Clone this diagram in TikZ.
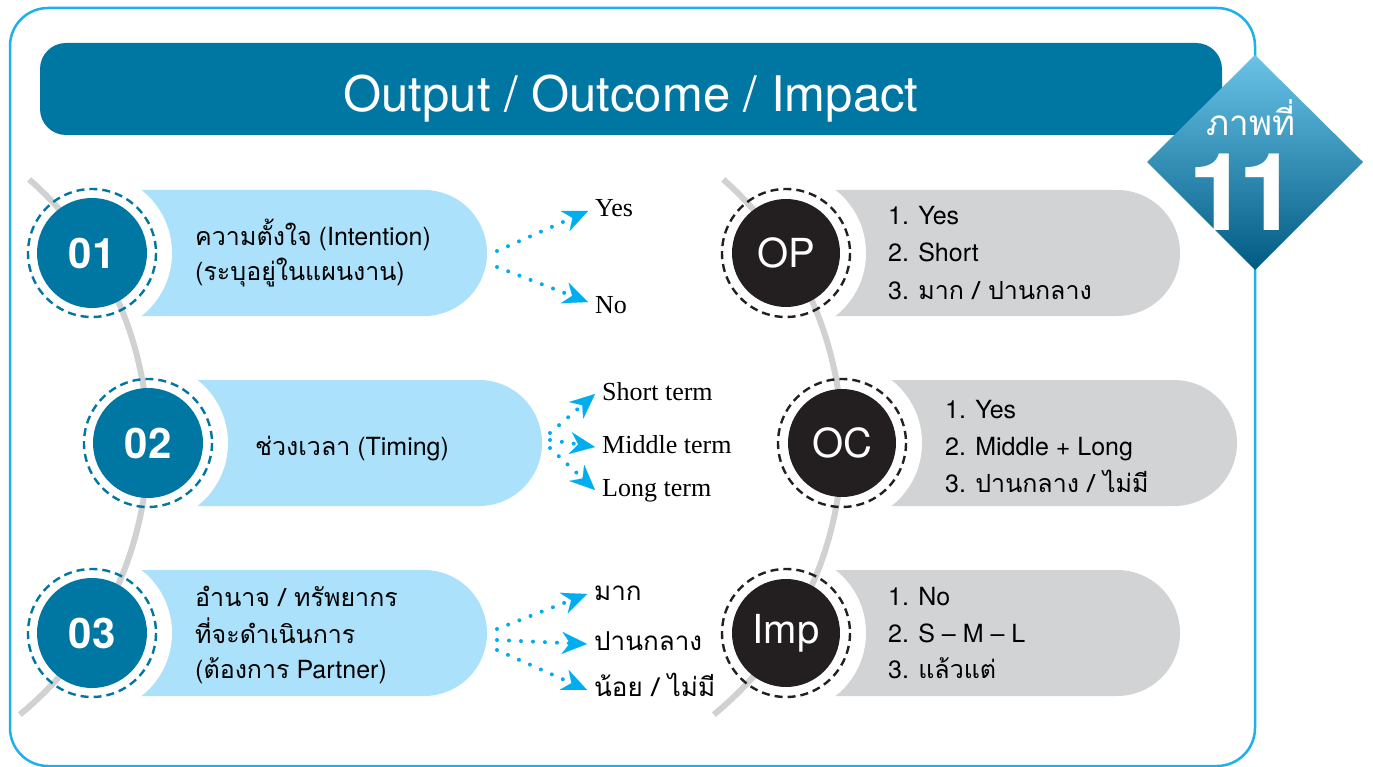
\documentclass[tikz,border=0pt]{standalone}
\usepackage{fontspec}
\setmainfont{TeX Gyre Heros}
\newfontfamily\serifface{Liberation Serif}
\newfontfamily\thaifont[Script=Thai]{Loma}
\usetikzlibrary{arrows.meta}
\newcommand\thaitxt[1]{{\thaifont #1}}

\definecolor{titleblue}{HTML}{0076A3}
\definecolor{pillblue}{HTML}{ABE1FA}
\definecolor{pillgray}{HTML}{D1D3D4}
\definecolor{arcgray}{HTML}{D0D1D3}
\definecolor{inkblack}{HTML}{231F20}
\definecolor{framecyan}{HTML}{1DB0EA}
\definecolor{dotcyan}{HTML}{00AEEF}
\definecolor{badgetop}{HTML}{6AC3E7}
\definecolor{badgemid}{HTML}{0089BB}
\definecolor{badgebot}{HTML}{005A83}

\tikzset{
  bluedot/.style={circle, fill=titleblue, minimum size=110pt, inner sep=0pt, text=white, font=\fontsize{42}{42}\selectfont\bfseries},
  blackdot/.style={circle, fill=inkblack, minimum size=108pt, inner sep=0pt, text=white, font=\fontsize{40}{40}\selectfont},
  bluering/.style={draw=titleblue, line width=2.4pt, dash pattern=on 8pt off 5pt},
  blackring/.style={draw=inkblack, line width=2.4pt, dash pattern=on 8pt off 5pt},
  arcline/.style={draw=arcgray, line width=6pt},
  pilltext/.style={anchor=base west, inner sep=0pt, font=\fontsize{25}{25}\selectfont},
  choice/.style={anchor=base west, inner xsep=7pt, inner ysep=0pt, text height=18pt, text depth=6pt, font=\fontsize{26}{26}\selectfont\serifface},
  choicethai/.style={choice, font=\fontsize{26}{26}\selectfont\thaifont},
  dotarrow/.style={draw=dotcyan, line width=4pt, line cap=round, dash pattern=on 0pt off 12pt, -{Stealth[length=25pt, width=22pt, inset=8pt, line width=0.1pt]}},
  badgetext/.style={anchor=base, text=white, inner sep=0pt},
}

\begin{document}
\begin{tikzpicture}[x=1pt, y=-1pt]
  \useasboundingbox (0,0) rectangle (1373,767);

  % frame and title bar
  \draw[framecyan, line width=2.5pt, rounded corners=38pt] (10,8) rectangle (1255,766);
  \node[fill=titleblue, rounded corners=26pt, minimum width=1182pt, minimum height=92pt, inner sep=0pt] (title) at (631,89) {};
  \node[anchor=base, text=white, font=\fontsize{49}{49}\selectfont] (titletext) at (631,112) {Output / Outcome / Impact};

  % circle centres
  \coordinate (k1) at (92,253);
  \coordinate (k2) at (148,443);
  \coordinate (k3) at (92,633);
  \coordinate (r1) at (786,253);
  \coordinate (r2) at (842,443);
  \coordinate (r3) at (786,633);

  % pills
  \fill[pillblue] (130,190) -- (424,190) arc[start angle=-90, end angle=90, radius=63] -- (130,316) -- cycle;
  \fill[pillblue] (180,380) -- (479,380) arc[start angle=-90, end angle=90, radius=63] -- (180,506) -- cycle;
  \fill[pillblue] (130,570) -- (424,570) arc[start angle=-90, end angle=90, radius=63] -- (130,696) -- cycle;
  \fill[pillgray] (824,190) -- (1117,190) arc[start angle=-90, end angle=90, radius=63] -- (824,316) -- cycle;
  \fill[pillgray] (874,380) -- (1174,380) arc[start angle=-90, end angle=90, radius=63] -- (874,506) -- cycle;
  \fill[pillgray] (824,570) -- (1117,570) arc[start angle=-90, end angle=90, radius=63] -- (824,696) -- cycle;

  \foreach \k in {k1,k2,k3,r1,r2,r3}
    \fill[white] (\k) circle (80);

  % grey arcs
  \draw[arcline] (-204,443) ++(-48.5:352) arc[start angle=-48.5, end angle=50.5, radius=352];
  \draw[arcline] (490,443) ++(-48.5:352) arc[start angle=-48.5, end angle=50.5, radius=352];

  \foreach \k in {k1,k2,k3}
    \draw[bluering] (\k) circle (64);
  \foreach \k in {r1,r2,r3}
    \draw[blackring] (\k) circle (64);

  \node[bluedot] (n1) at (k1) {01};
  \node[bluedot] (n2) at (k2) {02};
  \node[bluedot] (n3) at (k3) {03};
  \node[blackdot] (op) at (r1) {OP};
  \node[blackdot] (oc) at (r2) {OC};
  \node[blackdot] (imp) at (r3) {Imp};

  % pill texts
  \node[pilltext] (t1a) at (195,246) {\thaitxt{ความตั้งใจ} (Intention)};
  \node[pilltext] (t1b) at (195,281) {(\thaitxt{ระบุอยู่ในแผนงาน})};
  \node[pilltext] (t2) at (255,455) {\thaitxt{ช่วงเวลา} (Timing)};
  \node[pilltext] (t3a) at (195,606) {\thaitxt{อำนาจ / ทรัพยากร}};
  \node[pilltext] (t3b) at (195,643) {\thaitxt{ที่จะดำเนินการ}};
  \node[pilltext] (t3c) at (195,678) {(\thaitxt{ต้องการ} Partner)};

  \node[pilltext] (op1) at (888,225) {1. Yes};
  \node[pilltext] (op2) at (888,262) {2. Short};
  \node[pilltext] (op3) at (888,299) {3. \thaitxt{มาก / ปานกลาง}};
  \node[pilltext] (oc1) at (945,418) {1. Yes};
  \node[pilltext] (oc2) at (945,455) {2. Middle + Long};
  \node[pilltext] (oc3) at (945,492) {3. \thaitxt{ปานกลาง / ไม่มี}};
  \node[pilltext] (im1) at (888,605) {1. No};
  \node[pilltext] (im2) at (888,642) {2. S -- M -- L};
  \node[pilltext] (im3) at (888,678) {3. \thaitxt{แล้วแต่}};

  % choices
  \node[choice] (yes) at (588,217) {Yes};
  \node[choice] (no) at (588,313) {No};
  \node[choice] (short) at (595,400) {Short term};
  \node[choice] (middle) at (595,453) {Middle term};
  \node[choice] (long) at (595,496) {Long term};
  \node[choicethai] (much) at (587,600) {มาก};
  \node[choicethai] (mid) at (587,650) {ปานกลาง};
  \node[choicethai] (less) at (587,696) {น้อย / ไม่มี};

  \coordinate (o1a) at (497,251);
  \coordinate (o1b) at (497,267);
  \coordinate (o2a) at (550,433);
  \coordinate (o2b) at (550,440);
  \coordinate (o2c) at (550,448);
  \coordinate (o3a) at (497,629);
  \coordinate (o3b) at (497,640);
  \coordinate (o3c) at (497,650);

  \draw[dotarrow] (o1a) -- (yes.west);
  \draw[dotarrow] (o1b) -- ([yshift=5pt]no.west);
  \draw[dotarrow] (o2a) -- (short.west);
  \draw[dotarrow] (o2b) -- (middle.west);
  \draw[dotarrow] (o2c) -- (long.west);
  \draw[dotarrow] (o3a) -- (much.west);
  \draw[dotarrow] (o3b) -- (mid.west);
  \draw[dotarrow] (o3c) -- (less.west);

  % badge
  \shade[top color=badgetop, middle color=badgemid, bottom color=badgebot] (1255,55) -- (1363,162) -- (1255,270) -- (1147,162) -- cycle;
  \node[badgetext, text depth=0pt, font=\fontsize{35}{35}\selectfont\thaifont] (badgeword) at (1251,136) {ภาพที่};
  \node[badgetext, text height=78pt, font=\fontsize{108}{108}\selectfont\bfseries] (one1) at (1219,231) {1};
  \node[badgetext, text height=78pt, font=\fontsize{108}{108}\selectfont\bfseries] (one2) at (1269,231) {1};
\end{tikzpicture}
\end{document}
